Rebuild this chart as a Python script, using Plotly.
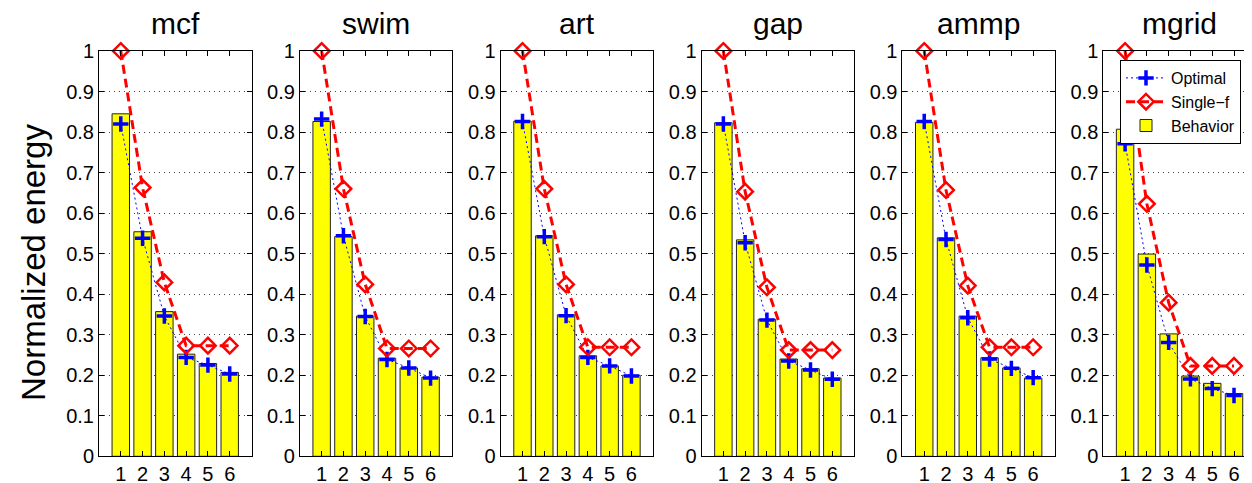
import plotly.graph_objects as go

# ---- data ----
benchmarks = ["mcf", "swim", "art", "gap", "ammp", "mgrid"]
settings = [1, 2, 3, 4, 5, 6]

behavior = {
    "mcf":   [0.845, 0.554, 0.357, 0.252, 0.229, 0.207],
    "swim":  [0.826, 0.542, 0.346, 0.242, 0.218, 0.195],
    "art":   [0.827, 0.544, 0.349, 0.248, 0.223, 0.200],
    "gap":   [0.823, 0.534, 0.338, 0.240, 0.216, 0.193],
    "ammp":  [0.824, 0.539, 0.346, 0.243, 0.218, 0.193],
    "mgrid": [0.807, 0.499, 0.302, 0.198, 0.180, 0.155],
}
optimal = {
    "mcf":   [0.820, 0.538, 0.346, 0.244, 0.225, 0.203],
    "swim":  [0.832, 0.544, 0.345, 0.239, 0.218, 0.193],
    "art":   [0.826, 0.542, 0.347, 0.244, 0.223, 0.198],
    "gap":   [0.820, 0.527, 0.336, 0.235, 0.213, 0.190],
    "ammp":  [0.826, 0.535, 0.342, 0.240, 0.217, 0.194],
    "mgrid": [0.771, 0.472, 0.281, 0.191, 0.167, 0.150],
}
single_f = {
    "mcf":   [1.000, 0.663, 0.429, 0.273, 0.273, 0.273],
    "swim":  [1.000, 0.660, 0.424, 0.266, 0.266, 0.266],
    "art":   [1.000, 0.660, 0.424, 0.269, 0.269, 0.269],
    "gap":   [1.000, 0.653, 0.417, 0.262, 0.262, 0.262],
    "ammp":  [1.000, 0.657, 0.421, 0.269, 0.269, 0.269],
    "mgrid": [1.000, 0.623, 0.379, 0.223, 0.223, 0.223],
}
y_ticks = [0, 0.1, 0.2, 0.3, 0.4, 0.5, 0.6, 0.7, 0.8, 0.9, 1]
y_ticktext = ["0", "0.1", "0.2", "0.3", "0.4", "0.5", "0.6", "0.7", "0.8", "0.9", "1"]

# ---- layout geometry (pixels, page coords; the page body adds an 8px offset) ----
W, H = 1252, 483
OFF = 8
FONT = "Liberation Sans, Arial, Helvetica, sans-serif"
left0, step, pw = 99.0, 200.86, 152.5
top_px, bot_px = 51.0, 456.3


def fx(px):
    return (px - OFF) / W


def fy(py):
    return 1 - (py - OFF) / H


fig = go.Figure()
layout = dict(
    width=W, height=H,
    margin=dict(l=0, r=0, t=0, b=0, autoexpand=False),
    paper_bgcolor="white", plot_bgcolor="white",
    font=dict(family=FONT, size=20, color="black"),
    showlegend=True,
    legend=dict(
        x=fx(1241), y=fy(60), xanchor="right", yanchor="top",
        bgcolor="white", bordercolor="black", borderwidth=1,
        font=dict(size=16, family=FONT), tracegroupgap=0,
        itemwidth=40,
    ),
    annotations=[],
)
ydom = [fy(bot_px), fy(top_px)]

for i, b in enumerate(benchmarks):
    n = "" if i == 0 else str(i + 1)
    xa, ya = "x" + n, "y" + n
    left = left0 + step * i
    right = left + pw
    layout["xaxis" + n] = dict(
        domain=[fx(left), min(fx(right), 1.0)], anchor=ya, range=[0, 7],
        tickvals=settings, ticktext=[str(s) for s in settings],
        ticks="inside", ticklen=5, tickcolor="black",
        showline=True, linecolor="black", linewidth=1, mirror="ticks",
        showgrid=False, zeroline=False,
        tickfont=dict(size=20, family=FONT),
    )
    layout["yaxis" + n] = dict(
        domain=ydom, anchor=xa, range=[0, 1],
        tickvals=y_ticks, ticktext=y_ticktext,
        ticks="inside", ticklen=5, tickcolor="black",
        showline=True, linecolor="black", linewidth=1, mirror="ticks",
        showgrid=True, gridcolor="#444", gridwidth=1, griddash="1px,4px",
        zeroline=False,
        tickfont=dict(size=20, family=FONT),
    )
    layout["annotations"].append(dict(
        text=b, x=fx(left + pw / 2), y=fy(24),
        xref="paper", yref="paper", showarrow=False,
        xanchor="center", yanchor="middle", borderpad=0,
        font=dict(size=30, family=FONT),
    ))
    show = (i == len(benchmarks) - 1)
    fig.add_trace(go.Bar(
        x=settings, y=behavior[b], xaxis=xa, yaxis=ya, width=0.8,
        marker=dict(color="#FFFF00", line=dict(color="#222", width=1)),
        name="Behavior", showlegend=show, legendrank=3,
    ))
    fig.add_trace(go.Scatter(
        x=settings, y=optimal[b], xaxis=xa, yaxis=ya, mode="lines+markers",
        line=dict(color="blue", width=1, dash="2px,3px"),
        marker=dict(symbol="cross-thin", size=11, line=dict(width=3.5, color="blue")),
        name="Optimal", showlegend=show, legendrank=1, cliponaxis=False,
    ))
    fig.add_trace(go.Scatter(
        x=settings, y=single_f[b], xaxis=xa, yaxis=ya, mode="lines+markers",
        line=dict(color="red", width=3, dash="9px,5px"),
        marker=dict(symbol="diamond-open", size=12, color="red",
                    line=dict(width=2.5, color="red")),
        name="Single\u2212f", showlegend=show, legendrank=2, cliponaxis=False,
    ))

layout["annotations"].append(dict(
    text="Normalized energy", x=fx(33), y=fy(263),
    xref="paper", yref="paper", showarrow=False, textangle=-90,
    xanchor="center", yanchor="middle",
    font=dict(size=33, family=FONT),
))
fig.update_layout(**layout)
fig.write_html("out.html")
